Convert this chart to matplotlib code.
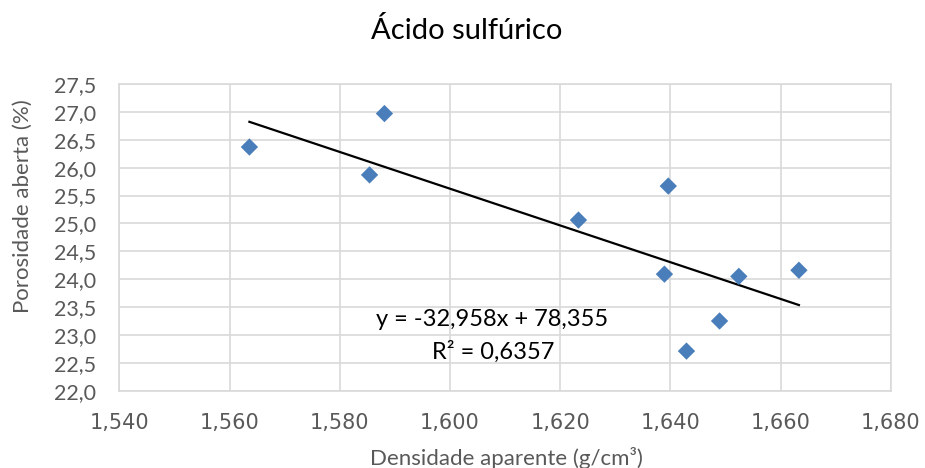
import matplotlib
matplotlib.use("Agg")
import matplotlib.pyplot as plt

# Apparent density (g/cm³) vs open porosity (%) after sulfuric acid exposure
densidade = [1.5636, 1.5881, 1.5854, 1.6233, 1.6396, 1.6389, 1.6524, 1.6633, 1.6489, 1.6429]
porosidade = [26.37, 26.97, 25.87, 25.06, 25.67, 24.09, 24.05, 24.16, 23.25, 22.71]

# Linear trendline coefficients and fit quality
inclinacao = -32.958
intercepto = 78.355
r2 = 0.6357

titulo = "Ácido sulfúrico"
rotulo_x = "Densidade aparente (g/cm³)"
rotulo_y = "Porosidade aberta (%)"

ticks_x = [1.540, 1.560, 1.580, 1.600, 1.620, 1.640, 1.660, 1.680]
ticks_y = [22.0, 22.5, 23.0, 23.5, 24.0, 24.5, 25.0, 25.5, 26.0, 26.5, 27.0, 27.5]
rotulos_ticks_x = [f"{v:.3f}".replace(".", ",") for v in ticks_x]
rotulos_ticks_y = [f"{v:.1f}".replace(".", ",") for v in ticks_y]

plt.rcParams["font.family"] = ["Lato", "DejaVu Sans"]

fig = plt.figure(figsize=(9.25, 4.68), dpi=100)
ax = fig.add_axes([0.129, 0.1652, 0.8342, 0.6553])

ax.set_xlim(ticks_x[0], ticks_x[-1])
ax.set_ylim(ticks_y[0], ticks_y[-1])
# density ticks use a wider face to mimic their spaced-out setting
ax.set_xticks(ticks_x, rotulos_ticks_x, fontfamily="DejaVu Sans", fontsize=15)
ax.set_yticks(ticks_y, rotulos_ticks_y, fontsize=15.5)

ax.grid(True, color="#d9d9d9", linewidth=1.2)
ax.set_axisbelow(True)
for s in ax.spines.values():
    s.set_color("#d9d9d9")
    s.set_linewidth(1.2)
ax.tick_params(length=0, colors="#595959")
ax.tick_params(axis="y", pad=16.5)
ax.tick_params(axis="x", pad=16)

ax.scatter(densidade, porosidade, marker="D", s=78, color="#4a7ebb",
           edgecolors="none", zorder=3)

x0, x1 = min(densidade), max(densidade)
ax.plot([x0, x1], [inclinacao * x0 + intercepto, inclinacao * x1 + intercepto],
        color="black", linewidth=1.6, zorder=2)

eq = f"y = {inclinacao:.3f}x + {intercepto:.3f}".replace(".", ",")
r2_txt = f"R² = {r2:.4f}".replace(".", ",")
ax.text(1.6076, 23.27, eq, ha="center", va="center", fontsize=17, color="black")
ax.text(1.6078, 22.69, r2_txt, ha="center", va="center", fontsize=17, color="black")

fig.text(0.504, 0.934, titulo, ha="center", va="center", fontsize=21, color="black")
fig.text(0.547, 0.021, rotulo_x, ha="center", va="center", fontsize=16, color="#595959")
fig.text(0.025, 0.56, rotulo_y, ha="center", va="center", rotation=90,
         fontsize=16, color="#595959")

fig.savefig("out.png", dpi=100)
